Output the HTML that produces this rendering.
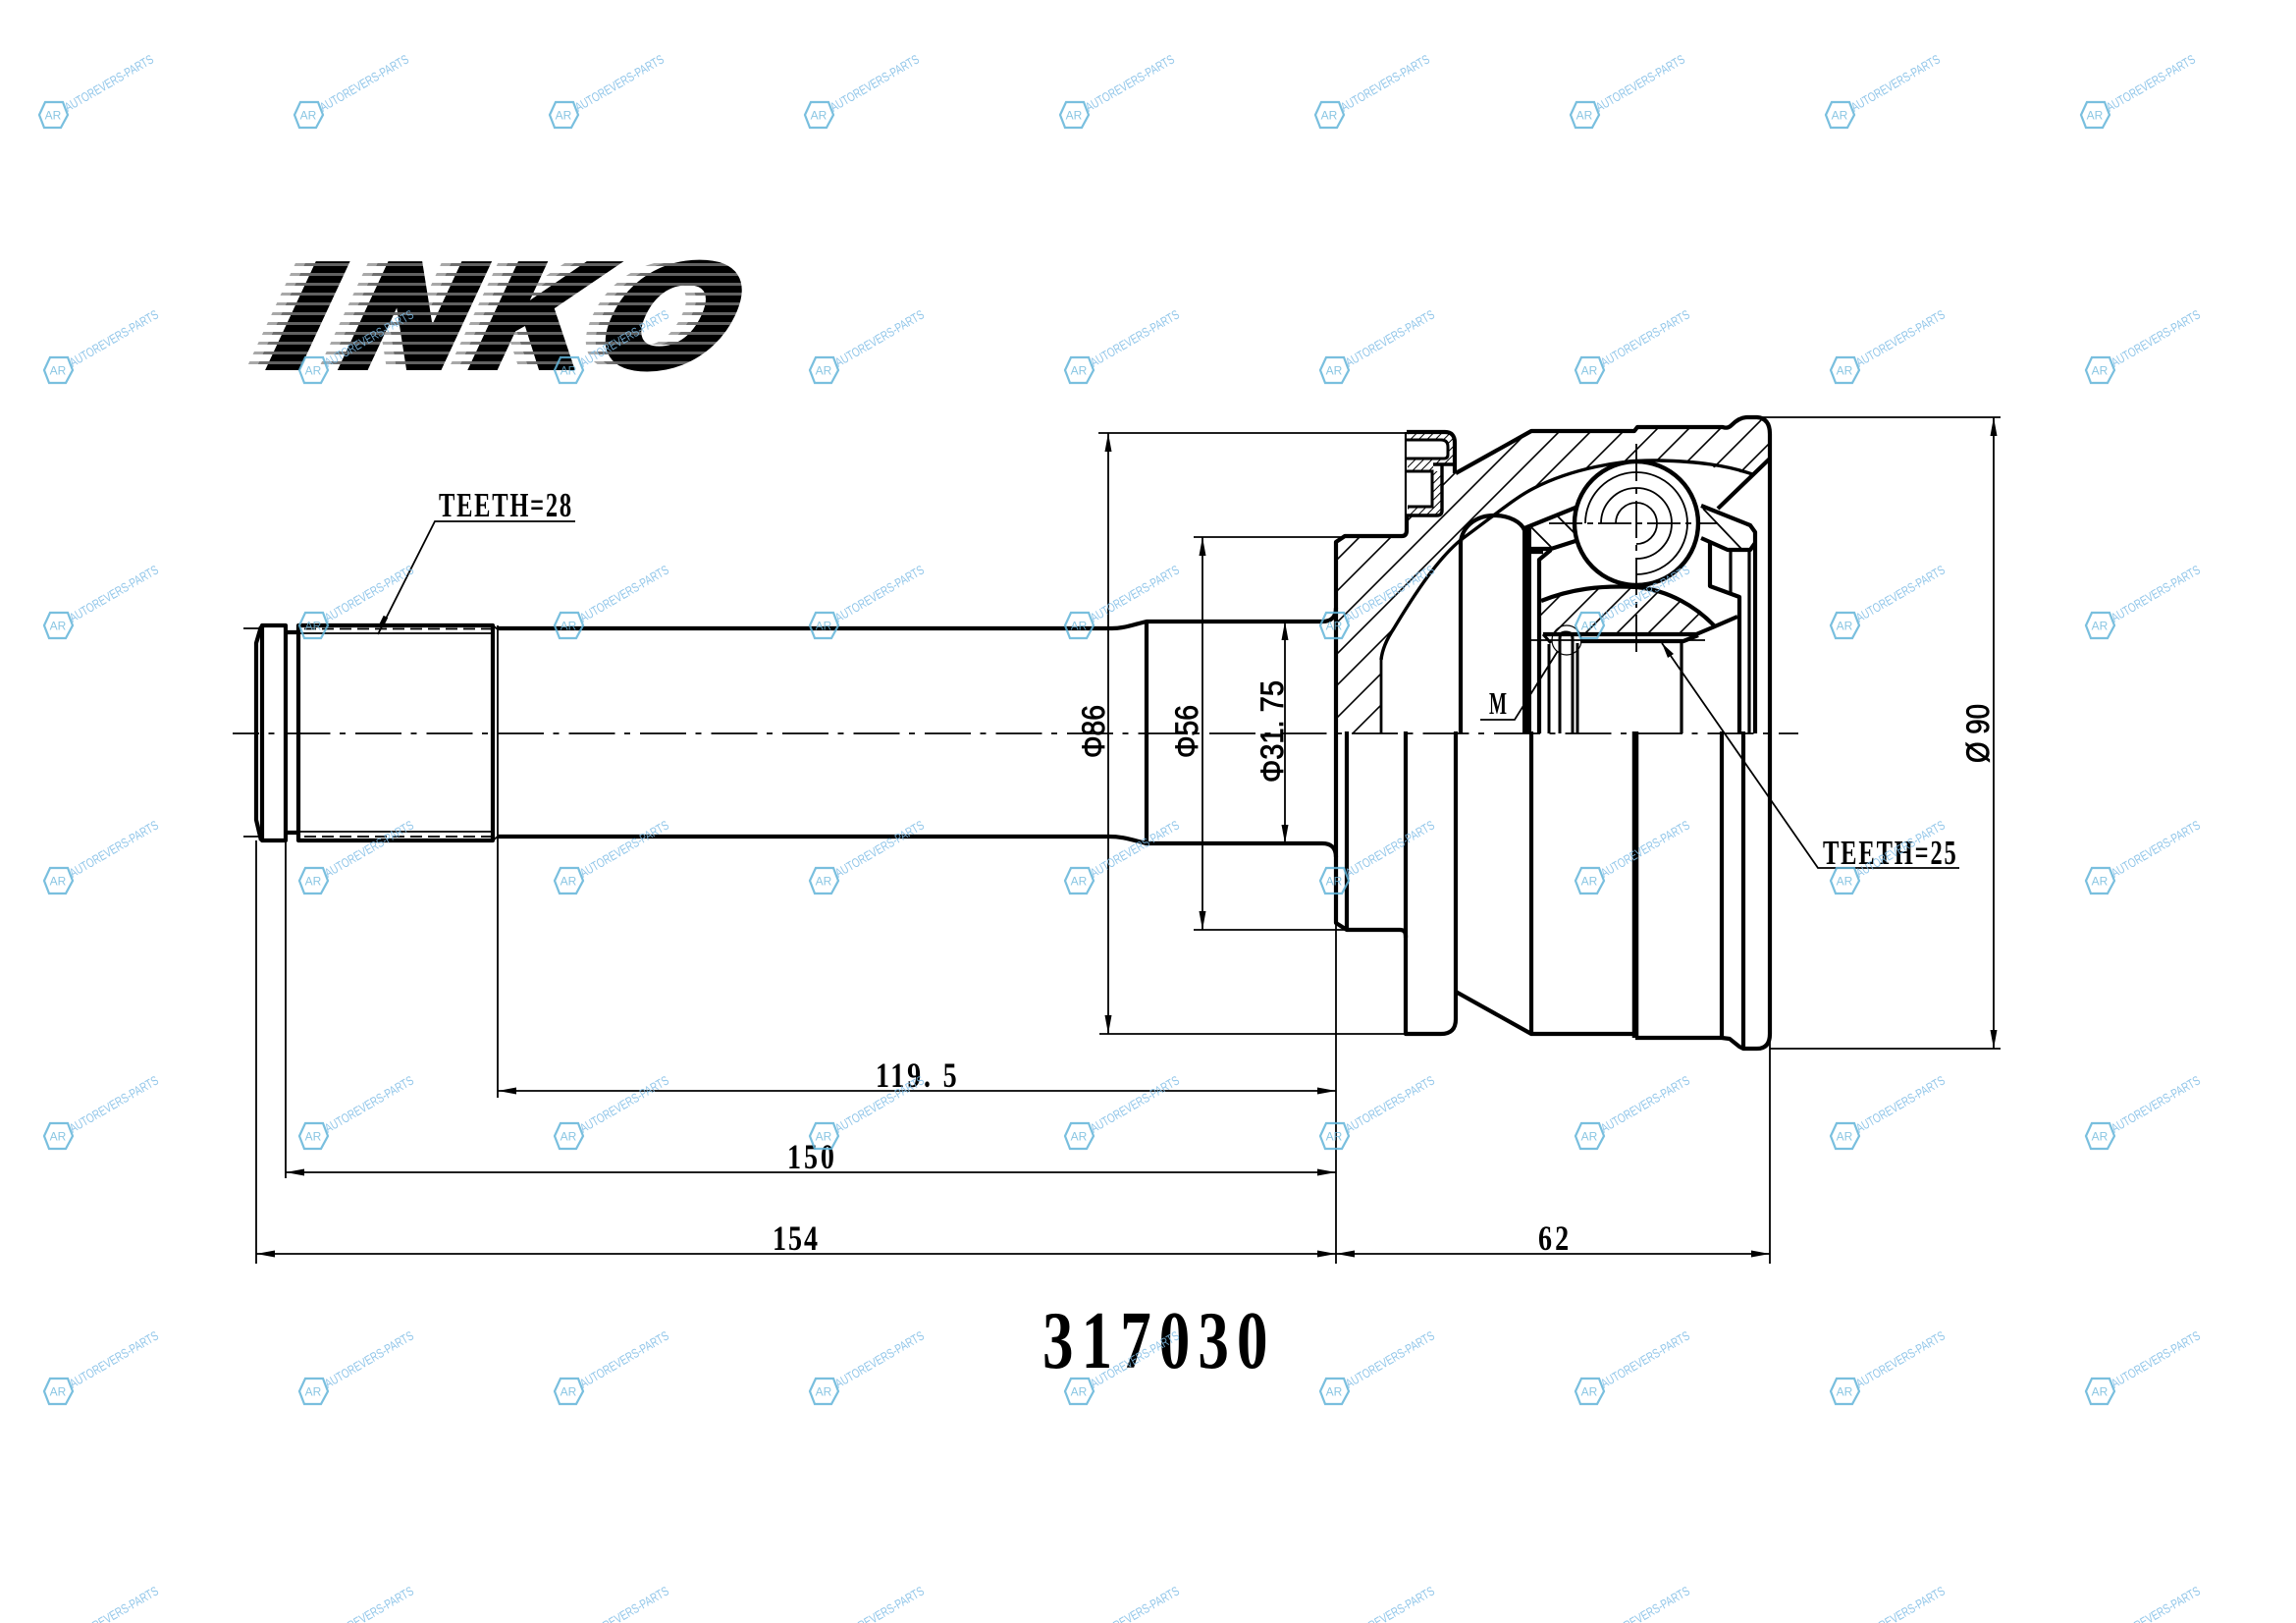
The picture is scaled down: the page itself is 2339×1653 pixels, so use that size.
<!DOCTYPE html>
<html><head><meta charset="utf-8">
<style>
html,body{margin:0;padding:0;background:#fff}
svg{display:block}
.k{fill:none;stroke:#000;stroke-width:4.2;stroke-linejoin:round;stroke-linecap:butt}
.m{fill:none;stroke:#000;stroke-width:2.8}
.t{fill:none;stroke:#000;stroke-width:1.8}
.h{fill:none;stroke:#000;stroke-width:1.6}
.s{font-family:"Liberation Serif",serif;font-weight:bold;fill:#000}
.p{font-family:"Liberation Sans",sans-serif;fill:#000;stroke:#000;stroke-width:.8}
.l{font-family:"Liberation Sans",sans-serif;font-weight:bold;font-size:148px;fill:#000;stroke:#000;stroke-width:9}
.w{font-family:"Liberation Sans",sans-serif;font-size:13px;fill:#7fbde6;opacity:.85}
.a{font-family:"Liberation Sans",sans-serif;font-size:12px;fill:#6db8dc;text-anchor:middle;opacity:.8}
</style></head><body>
<svg xmlns="http://www.w3.org/2000/svg" width="2339" height="1653" viewBox="0 0 2339 1653">
<defs>
<path id="h" d="M-14 0L-8-13H10L15 0L8 13H-9Z" fill="none" stroke="#62b4d8" stroke-width="2.200" opacity=".85"/>
<clipPath id="c1"><path d="M1361 747V552L1370 546H1428L1433 538V525H1468V478H1483V482L1560 439H1665L1668 435H1755Q1760 437 1764 433Q1772 425 1780 425H1790Q1803 426 1803 442V467L1783 483L1713 470H1663L1613 478L1563 497L1527 523L1488 550L1462 573L1420 640L1407 672V747Z"/></clipPath>
<clipPath id="c2"><path d="M1568 646V612L1600 602L1630 597H1667L1707 607L1730 622L1747 638L1728 646Z"/></clipPath>
<pattern id="f" width="6" height="6" patternUnits="userSpaceOnUse" patternTransform="rotate(45)"><line x1="0" y1="0" x2="0" y2="6" stroke="#000" stroke-width="2"/></pattern>
<clipPath id="r"><rect x="230" y="268" width="540" height="3"/><rect x="230" y="278" width="540" height="3"/><rect x="230" y="288" width="540" height="3"/><rect x="230" y="298" width="540" height="3"/><rect x="230" y="308" width="540" height="3"/><rect x="230" y="318" width="540" height="3"/><rect x="230" y="328" width="540" height="3"/><rect x="230" y="338" width="540" height="3"/><rect x="230" y="348" width="540" height="3"/><rect x="230" y="358" width="540" height="3"/><rect x="230" y="368" width="540" height="3"/></clipPath>
</defs>

<!-- logo -->
<g clip-path="url(#r)" opacity=".55">
<g transform="translate(-20,0)">
<text class="l" transform="translate(266,372.500) skewX(-25) scale(1.15,1)">I</text>
<text class="l" transform="translate(340,372.500) skewX(-25) scale(1.1,1)">N</text>
<text class="l" transform="translate(473,372.500) skewX(-25)">K</text>
<text class="l" transform="translate(598,372.500) skewX(-25) scale(1.12,1)">O</text>
</g></g>
<g clip-path="url(#r)" opacity=".8">
<g transform="translate(-10,0)">
<text class="l" transform="translate(266,372.500) skewX(-25) scale(1.15,1)">I</text>
<text class="l" transform="translate(340,372.500) skewX(-25) scale(1.1,1)">N</text>
<text class="l" transform="translate(473,372.500) skewX(-25)">K</text>
<text class="l" transform="translate(598,372.500) skewX(-25) scale(1.12,1)">O</text>
</g></g>
<text class="l" transform="translate(266,372.500) skewX(-25) scale(1.15,1)">I</text>
<text class="l" transform="translate(340,372.500) skewX(-25) scale(1.1,1)">N</text>
<text class="l" transform="translate(473,372.500) skewX(-25)">K</text>
<text class="l" transform="translate(598,372.500) skewX(-25) scale(1.12,1)">O</text>
<g clip-path="url(#r)"><rect x="230" y="260" width="540" height="125" fill="#fff" opacity=".38"/></g>

<!-- shaft -->
<path class="k" d="M266 638L261 655V835L266 856"/>
<path class="k" d="M267 637H291V856H267Z"/>
<path class="k" d="M291 644H304M291 848H304"/>
<path class="k" d="M304 637H502V856H304Z"/>
<path class="t" d="M304 645H502M304 847H502M502 637L507 641M502 856L507 852"/>
<path class="t" stroke-dasharray="12 6" d="M310 640.500H500M310 852H500"/>
<path class="t" d="M507 637V1118"/>
<path class="k" d="M507 640H1133C1145 640 1155 636 1168 633H1347Q1361 633 1361 619"/>
<path class="k" d="M507 852H1130C1145 852 1155 856 1168 859H1347Q1361 859 1361 873"/>
<path class="k" d="M1168 633V859"/>
<path class="k" d="M1361 747V552L1370 546H1428Q1433 546 1433 540V440"/>
<path class="k" d="M1361 747V940L1372 947H1426Q1432 947 1432 953V1053H1468Q1483 1053 1483 1038V745"/>
<path class="k" d="M1372 745V947M1432 745V955"/>
<path class="k" d="M1483 1010L1560 1053H1664M1560 745V1053"/>
<path d="M1666 745V1057" class="k" style="stroke-width:6.500"/>
<path class="k" d="M1666 1057H1754L1762 1058L1772 1066L1776 1068H1790Q1803 1068 1803 1053V745"/>
<path class="k" d="M1754 745V1057M1776 745V1068"/>

<!-- hatch -->
<path class="h" clip-path="url(#c1)" d="M1350 582L1820 112M1350 614L1820 144M1350 646L1820 176M1350 678L1820 208M1350 710L1820 240M1350 743L1820 273M1350 775L1820 305M1350 807L1820 337M1350 839L1820 369M1350 872L1820 402M1350 904L1820 434"/>
<path class="h" clip-path="url(#c2)" d="M1560 636L1760 436M1560 668L1760 468M1560 700L1760 500M1560 732L1760 532M1560 764L1760 564M1560 796L1760 596"/>

<!-- clamp -->
<path d="M1433 440H1472Q1482 440 1482 451V478H1469V526H1433Z" fill="#fff"/>
<path d="M1434 441H1472Q1482 441 1482 451V473H1460V480H1434V467H1471Q1475 467 1475 463V455Q1475 448 1468 448H1434Z" fill="url(#f)"/>
<path d="M1460 480H1469V525H1434V517H1460Z" fill="url(#f)"/>
<path class="k" d="M1433 440H1472Q1482 440 1482 451V482"/>
<path class="m" style="stroke-width:3" d="M1433 448H1468Q1475 448 1475 455V463Q1475 467 1471 467H1433"/>
<path class="m" style="stroke-width:3" d="M1433 480H1459V516H1434"/>
<path class="k" style="stroke-width:3.400" d="M1460 473H1482M1469 473V520Q1469 525 1464 525H1433"/>

<!-- housing inner -->
<path class="k" d="M1483 482L1560 439H1665L1668 435H1755Q1760 437 1764 433Q1772 425 1780 425H1790Q1803 426 1803 442V745"/>
<path class="k" style="stroke-width:3.400" d="M1785 483C1760 474 1730 470 1690 469C1650 468 1600 478 1563 497C1545 506 1530 519 1488 550C1470 565 1450 590 1420 640C1412 652 1408 662 1407 672"/>
<path class="m" d="M1407 672V747"/>
<path class="k" d="M1803 467L1750 518"/>
<path class="k" d="M1488 747V552C1490 535 1505 525 1522 525C1538 525 1550 532 1553 540"/>
<path fill="#000" d="M1551 538H1560V747H1551Z"/>
<path class="k" d="M1553 538L1605 517M1557 559H1580L1605 551M1557 562H1572M1568 747V570L1580 560"/>
<path class="k" d="M1733 515L1783 535L1788 542V747M1733 548L1760 560H1783L1788 553"/>
<path class="k" d="M1742 553V597L1772 608V747"/>
<path class="k" style="stroke-width:3.200" d="M1763 560V603M1782 560V747"/>
<path class="t" d="M1560 537L1582 559M1586 525L1606 545M1735 518L1775 560"/>
<!-- ball -->
<circle cx="1667" cy="533" r="63" fill="#fff" stroke="#000" stroke-width="4.400"/>
<path class="t" d="M1646 533A21 21 0 1 1 1667 554M1631 533A36 36 0 1 1 1667 569M1615 533A52 52 0 1 1 1667 585"/>
<path class="t" d="M1578 533H1750" stroke-dasharray="34 5 6 5"/>
<path class="t" d="M1667 452V668" stroke-dasharray="38 7 6 7"/>
<!-- inner race -->
<path class="k" d="M1570 612C1600 600 1630 596 1667 598C1700 601 1728 618 1747 638L1770 628"/>
<path class="k" d="M1747 638L1728 646H1572"/>
<path class="k" d="M1610 653H1715L1730 647"/>
<path class="t" d="M1560 652H1737"/>
<path class="k" style="stroke-width:3.200" d="M1713 653V747"/>
<circle cx="1596" cy="652" r="15" class="t" style="stroke-width:1.2"/>
<path class="m" style="stroke-width:3" d="M1578 656V747M1589 747V650Q1589 644 1595 644Q1602 644 1602 650V747M1607 655V747M1572 646L1580 655"/>

<!-- center line -->
<path class="t" d="M237 747H1832" stroke-dasharray="47 9.500 6 10" stroke-dashoffset="20"/>

<!-- dimensions -->
<path class="t" d="M248 640H265M248 852H265"/>
<path class="t" d="M261 856V1287M291 856V1200"/>
<path class="t" d="M1361 940V1287M1803 1055V1287"/>
<path class="t" d="M507 1111H1361M291 1194H1361M261 1277H1803"/>
<path class="t" d="M1119 441H1432M1120 1053H1432M1216 547H1372M1216 947H1372"/>
<path class="t" d="M1129 441V1053M1225 547V947M1309 633V859"/>
<path class="t" d="M1792 425H2038M1803 1068H2038M2031 425V1068"/>
<path class="t" d="M586 531H443L385 646"/>
<path class="t" d="M1508 733H1543L1587 663"/>
<path class="t" d="M1996 884H1852L1693 655"/>
<path d="M388 638L393 628" stroke="#000" stroke-width="5" fill="none"/>
<g fill="#000">
<path d="M1693 655L1705 666L1699 670Z"/>
<path d="M507 1111L526 1107.500V1114.500Z M1361 1111L1342 1107.500V1114.500Z"/>
<path d="M291 1194L310 1190.500V1197.500Z M1361 1194L1342 1190.500V1197.500Z"/>
<path d="M261 1277L280 1273.500V1280.500Z M1361 1277L1342 1273.500V1280.500Z M1361 1277L1380 1273.500V1280.500Z M1803 1277L1784 1273.500V1280.500Z"/>
<path d="M1129 441L1125.500 460H1132.500Z M1129 1053L1125.500 1034H1132.500Z"/>
<path d="M1225 547L1221.500 566H1228.500Z M1225 947L1221.500 928H1228.500Z"/>
<path d="M1309 633L1305.500 652H1312.500Z M1309 859L1305.500 840H1312.500Z"/>
<path d="M2031 425L2027.500 444H2034.500Z M2031 1068L2027.500 1049H2034.500Z"/>
</g>

<!-- labels -->
<text class="s" transform="translate(447,526) scale(.7,1)" font-size="35" textLength="193" lengthAdjust="spacing">TEETH=28</text>
<text class="s" transform="translate(1857,880) scale(.7,1)" font-size="35" textLength="194" lengthAdjust="spacing">TEETH=25</text>
<text class="s" x="1517" y="727" font-size="32" textLength="18" lengthAdjust="spacingAndGlyphs">M</text>
<text class="s" transform="translate(892,1107) scale(.78,1)" font-size="36" textLength="106" lengthAdjust="spacing">119. 5</text>
<text class="s" transform="translate(802,1190) scale(.78,1)" font-size="36" textLength="61.500" lengthAdjust="spacing">150</text>
<text class="s" transform="translate(787,1273) scale(.78,1)" font-size="36" textLength="59" lengthAdjust="spacing">154</text>
<text class="s" transform="translate(1567,1273) scale(.78,1)" font-size="36" textLength="40" lengthAdjust="spacing">62</text>
<text class="s" transform="translate(1062,1393) scale(.75,1)" font-size="84" textLength="306" lengthAdjust="spacing">317030</text>
<text class="p" transform="translate(1125,772) rotate(-90)" font-size="32" textLength="54" lengthAdjust="spacingAndGlyphs">Φ86</text>
<text class="p" transform="translate(1220,772) rotate(-90)" font-size="32" textLength="54" lengthAdjust="spacingAndGlyphs">Φ56</text>
<text class="p" transform="translate(1307,797) rotate(-90)" font-size="32" textLength="104" lengthAdjust="spacingAndGlyphs">Φ31. 75</text>
<text class="p" transform="translate(2026,777) rotate(-90)" font-size="32" textLength="60" lengthAdjust="spacingAndGlyphs">Ø 90</text>

<!-- watermarks -->
<g transform="translate(54,117)"><use href="#h"/><text class="a" y="4.500">AR</text><text class="w" transform="translate(15,-3) rotate(-30)" textLength="102" lengthAdjust="spacingAndGlyphs">AUTOREVERS-PARTS</text></g>
<g transform="translate(314,117)"><use href="#h"/><text class="a" y="4.500">AR</text><text class="w" transform="translate(15,-3) rotate(-30)" textLength="102" lengthAdjust="spacingAndGlyphs">AUTOREVERS-PARTS</text></g>
<g transform="translate(574,117)"><use href="#h"/><text class="a" y="4.500">AR</text><text class="w" transform="translate(15,-3) rotate(-30)" textLength="102" lengthAdjust="spacingAndGlyphs">AUTOREVERS-PARTS</text></g>
<g transform="translate(834,117)"><use href="#h"/><text class="a" y="4.500">AR</text><text class="w" transform="translate(15,-3) rotate(-30)" textLength="102" lengthAdjust="spacingAndGlyphs">AUTOREVERS-PARTS</text></g>
<g transform="translate(1094,117)"><use href="#h"/><text class="a" y="4.500">AR</text><text class="w" transform="translate(15,-3) rotate(-30)" textLength="102" lengthAdjust="spacingAndGlyphs">AUTOREVERS-PARTS</text></g>
<g transform="translate(1354,117)"><use href="#h"/><text class="a" y="4.500">AR</text><text class="w" transform="translate(15,-3) rotate(-30)" textLength="102" lengthAdjust="spacingAndGlyphs">AUTOREVERS-PARTS</text></g>
<g transform="translate(1614,117)"><use href="#h"/><text class="a" y="4.500">AR</text><text class="w" transform="translate(15,-3) rotate(-30)" textLength="102" lengthAdjust="spacingAndGlyphs">AUTOREVERS-PARTS</text></g>
<g transform="translate(1874,117)"><use href="#h"/><text class="a" y="4.500">AR</text><text class="w" transform="translate(15,-3) rotate(-30)" textLength="102" lengthAdjust="spacingAndGlyphs">AUTOREVERS-PARTS</text></g>
<g transform="translate(2134,117)"><use href="#h"/><text class="a" y="4.500">AR</text><text class="w" transform="translate(15,-3) rotate(-30)" textLength="102" lengthAdjust="spacingAndGlyphs">AUTOREVERS-PARTS</text></g>

<g transform="translate(59,377)"><use href="#h"/><text class="a" y="4.500">AR</text><text class="w" transform="translate(15,-3) rotate(-30)" textLength="102" lengthAdjust="spacingAndGlyphs">AUTOREVERS-PARTS</text></g>
<g transform="translate(319,377)"><use href="#h"/><text class="a" y="4.500">AR</text><text class="w" transform="translate(15,-3) rotate(-30)" textLength="102" lengthAdjust="spacingAndGlyphs">AUTOREVERS-PARTS</text></g>
<g transform="translate(579,377)"><use href="#h"/><text class="a" y="4.500">AR</text><text class="w" transform="translate(15,-3) rotate(-30)" textLength="102" lengthAdjust="spacingAndGlyphs">AUTOREVERS-PARTS</text></g>
<g transform="translate(839,377)"><use href="#h"/><text class="a" y="4.500">AR</text><text class="w" transform="translate(15,-3) rotate(-30)" textLength="102" lengthAdjust="spacingAndGlyphs">AUTOREVERS-PARTS</text></g>
<g transform="translate(1099,377)"><use href="#h"/><text class="a" y="4.500">AR</text><text class="w" transform="translate(15,-3) rotate(-30)" textLength="102" lengthAdjust="spacingAndGlyphs">AUTOREVERS-PARTS</text></g>
<g transform="translate(1359,377)"><use href="#h"/><text class="a" y="4.500">AR</text><text class="w" transform="translate(15,-3) rotate(-30)" textLength="102" lengthAdjust="spacingAndGlyphs">AUTOREVERS-PARTS</text></g>
<g transform="translate(1619,377)"><use href="#h"/><text class="a" y="4.500">AR</text><text class="w" transform="translate(15,-3) rotate(-30)" textLength="102" lengthAdjust="spacingAndGlyphs">AUTOREVERS-PARTS</text></g>
<g transform="translate(1879,377)"><use href="#h"/><text class="a" y="4.500">AR</text><text class="w" transform="translate(15,-3) rotate(-30)" textLength="102" lengthAdjust="spacingAndGlyphs">AUTOREVERS-PARTS</text></g>
<g transform="translate(2139,377)"><use href="#h"/><text class="a" y="4.500">AR</text><text class="w" transform="translate(15,-3) rotate(-30)" textLength="102" lengthAdjust="spacingAndGlyphs">AUTOREVERS-PARTS</text></g>

<g transform="translate(59,637)"><use href="#h"/><text class="a" y="4.500">AR</text><text class="w" transform="translate(15,-3) rotate(-30)" textLength="102" lengthAdjust="spacingAndGlyphs">AUTOREVERS-PARTS</text></g>
<g transform="translate(319,637)"><use href="#h"/><text class="a" y="4.500">AR</text><text class="w" transform="translate(15,-3) rotate(-30)" textLength="102" lengthAdjust="spacingAndGlyphs">AUTOREVERS-PARTS</text></g>
<g transform="translate(579,637)"><use href="#h"/><text class="a" y="4.500">AR</text><text class="w" transform="translate(15,-3) rotate(-30)" textLength="102" lengthAdjust="spacingAndGlyphs">AUTOREVERS-PARTS</text></g>
<g transform="translate(839,637)"><use href="#h"/><text class="a" y="4.500">AR</text><text class="w" transform="translate(15,-3) rotate(-30)" textLength="102" lengthAdjust="spacingAndGlyphs">AUTOREVERS-PARTS</text></g>
<g transform="translate(1099,637)"><use href="#h"/><text class="a" y="4.500">AR</text><text class="w" transform="translate(15,-3) rotate(-30)" textLength="102" lengthAdjust="spacingAndGlyphs">AUTOREVERS-PARTS</text></g>
<g transform="translate(1359,637)"><use href="#h"/><text class="a" y="4.500">AR</text><text class="w" transform="translate(15,-3) rotate(-30)" textLength="102" lengthAdjust="spacingAndGlyphs">AUTOREVERS-PARTS</text></g>
<g transform="translate(1619,637)"><use href="#h"/><text class="a" y="4.500">AR</text><text class="w" transform="translate(15,-3) rotate(-30)" textLength="102" lengthAdjust="spacingAndGlyphs">AUTOREVERS-PARTS</text></g>
<g transform="translate(1879,637)"><use href="#h"/><text class="a" y="4.500">AR</text><text class="w" transform="translate(15,-3) rotate(-30)" textLength="102" lengthAdjust="spacingAndGlyphs">AUTOREVERS-PARTS</text></g>
<g transform="translate(2139,637)"><use href="#h"/><text class="a" y="4.500">AR</text><text class="w" transform="translate(15,-3) rotate(-30)" textLength="102" lengthAdjust="spacingAndGlyphs">AUTOREVERS-PARTS</text></g>

<g transform="translate(59,897)"><use href="#h"/><text class="a" y="4.500">AR</text><text class="w" transform="translate(15,-3) rotate(-30)" textLength="102" lengthAdjust="spacingAndGlyphs">AUTOREVERS-PARTS</text></g>
<g transform="translate(319,897)"><use href="#h"/><text class="a" y="4.500">AR</text><text class="w" transform="translate(15,-3) rotate(-30)" textLength="102" lengthAdjust="spacingAndGlyphs">AUTOREVERS-PARTS</text></g>
<g transform="translate(579,897)"><use href="#h"/><text class="a" y="4.500">AR</text><text class="w" transform="translate(15,-3) rotate(-30)" textLength="102" lengthAdjust="spacingAndGlyphs">AUTOREVERS-PARTS</text></g>
<g transform="translate(839,897)"><use href="#h"/><text class="a" y="4.500">AR</text><text class="w" transform="translate(15,-3) rotate(-30)" textLength="102" lengthAdjust="spacingAndGlyphs">AUTOREVERS-PARTS</text></g>
<g transform="translate(1099,897)"><use href="#h"/><text class="a" y="4.500">AR</text><text class="w" transform="translate(15,-3) rotate(-30)" textLength="102" lengthAdjust="spacingAndGlyphs">AUTOREVERS-PARTS</text></g>
<g transform="translate(1359,897)"><use href="#h"/><text class="a" y="4.500">AR</text><text class="w" transform="translate(15,-3) rotate(-30)" textLength="102" lengthAdjust="spacingAndGlyphs">AUTOREVERS-PARTS</text></g>
<g transform="translate(1619,897)"><use href="#h"/><text class="a" y="4.500">AR</text><text class="w" transform="translate(15,-3) rotate(-30)" textLength="102" lengthAdjust="spacingAndGlyphs">AUTOREVERS-PARTS</text></g>
<g transform="translate(1879,897)"><use href="#h"/><text class="a" y="4.500">AR</text><text class="w" transform="translate(15,-3) rotate(-30)" textLength="102" lengthAdjust="spacingAndGlyphs">AUTOREVERS-PARTS</text></g>
<g transform="translate(2139,897)"><use href="#h"/><text class="a" y="4.500">AR</text><text class="w" transform="translate(15,-3) rotate(-30)" textLength="102" lengthAdjust="spacingAndGlyphs">AUTOREVERS-PARTS</text></g>

<g transform="translate(59,1157)"><use href="#h"/><text class="a" y="4.500">AR</text><text class="w" transform="translate(15,-3) rotate(-30)" textLength="102" lengthAdjust="spacingAndGlyphs">AUTOREVERS-PARTS</text></g>
<g transform="translate(319,1157)"><use href="#h"/><text class="a" y="4.500">AR</text><text class="w" transform="translate(15,-3) rotate(-30)" textLength="102" lengthAdjust="spacingAndGlyphs">AUTOREVERS-PARTS</text></g>
<g transform="translate(579,1157)"><use href="#h"/><text class="a" y="4.500">AR</text><text class="w" transform="translate(15,-3) rotate(-30)" textLength="102" lengthAdjust="spacingAndGlyphs">AUTOREVERS-PARTS</text></g>
<g transform="translate(839,1157)"><use href="#h"/><text class="a" y="4.500">AR</text><text class="w" transform="translate(15,-3) rotate(-30)" textLength="102" lengthAdjust="spacingAndGlyphs">AUTOREVERS-PARTS</text></g>
<g transform="translate(1099,1157)"><use href="#h"/><text class="a" y="4.500">AR</text><text class="w" transform="translate(15,-3) rotate(-30)" textLength="102" lengthAdjust="spacingAndGlyphs">AUTOREVERS-PARTS</text></g>
<g transform="translate(1359,1157)"><use href="#h"/><text class="a" y="4.500">AR</text><text class="w" transform="translate(15,-3) rotate(-30)" textLength="102" lengthAdjust="spacingAndGlyphs">AUTOREVERS-PARTS</text></g>
<g transform="translate(1619,1157)"><use href="#h"/><text class="a" y="4.500">AR</text><text class="w" transform="translate(15,-3) rotate(-30)" textLength="102" lengthAdjust="spacingAndGlyphs">AUTOREVERS-PARTS</text></g>
<g transform="translate(1879,1157)"><use href="#h"/><text class="a" y="4.500">AR</text><text class="w" transform="translate(15,-3) rotate(-30)" textLength="102" lengthAdjust="spacingAndGlyphs">AUTOREVERS-PARTS</text></g>
<g transform="translate(2139,1157)"><use href="#h"/><text class="a" y="4.500">AR</text><text class="w" transform="translate(15,-3) rotate(-30)" textLength="102" lengthAdjust="spacingAndGlyphs">AUTOREVERS-PARTS</text></g>

<g transform="translate(59,1417)"><use href="#h"/><text class="a" y="4.500">AR</text><text class="w" transform="translate(15,-3) rotate(-30)" textLength="102" lengthAdjust="spacingAndGlyphs">AUTOREVERS-PARTS</text></g>
<g transform="translate(319,1417)"><use href="#h"/><text class="a" y="4.500">AR</text><text class="w" transform="translate(15,-3) rotate(-30)" textLength="102" lengthAdjust="spacingAndGlyphs">AUTOREVERS-PARTS</text></g>
<g transform="translate(579,1417)"><use href="#h"/><text class="a" y="4.500">AR</text><text class="w" transform="translate(15,-3) rotate(-30)" textLength="102" lengthAdjust="spacingAndGlyphs">AUTOREVERS-PARTS</text></g>
<g transform="translate(839,1417)"><use href="#h"/><text class="a" y="4.500">AR</text><text class="w" transform="translate(15,-3) rotate(-30)" textLength="102" lengthAdjust="spacingAndGlyphs">AUTOREVERS-PARTS</text></g>
<g transform="translate(1099,1417)"><use href="#h"/><text class="a" y="4.500">AR</text><text class="w" transform="translate(15,-3) rotate(-30)" textLength="102" lengthAdjust="spacingAndGlyphs">AUTOREVERS-PARTS</text></g>
<g transform="translate(1359,1417)"><use href="#h"/><text class="a" y="4.500">AR</text><text class="w" transform="translate(15,-3) rotate(-30)" textLength="102" lengthAdjust="spacingAndGlyphs">AUTOREVERS-PARTS</text></g>
<g transform="translate(1619,1417)"><use href="#h"/><text class="a" y="4.500">AR</text><text class="w" transform="translate(15,-3) rotate(-30)" textLength="102" lengthAdjust="spacingAndGlyphs">AUTOREVERS-PARTS</text></g>
<g transform="translate(1879,1417)"><use href="#h"/><text class="a" y="4.500">AR</text><text class="w" transform="translate(15,-3) rotate(-30)" textLength="102" lengthAdjust="spacingAndGlyphs">AUTOREVERS-PARTS</text></g>
<g transform="translate(2139,1417)"><use href="#h"/><text class="a" y="4.500">AR</text><text class="w" transform="translate(15,-3) rotate(-30)" textLength="102" lengthAdjust="spacingAndGlyphs">AUTOREVERS-PARTS</text></g>

<g transform="translate(59,1677)"><use href="#h"/><text class="w" transform="translate(15,-3) rotate(-30)" textLength="102" lengthAdjust="spacingAndGlyphs">AUTOREVERS-PARTS</text></g>
<g transform="translate(319,1677)"><use href="#h"/><text class="w" transform="translate(15,-3) rotate(-30)" textLength="102" lengthAdjust="spacingAndGlyphs">AUTOREVERS-PARTS</text></g>
<g transform="translate(579,1677)"><use href="#h"/><text class="w" transform="translate(15,-3) rotate(-30)" textLength="102" lengthAdjust="spacingAndGlyphs">AUTOREVERS-PARTS</text></g>
<g transform="translate(839,1677)"><use href="#h"/><text class="w" transform="translate(15,-3) rotate(-30)" textLength="102" lengthAdjust="spacingAndGlyphs">AUTOREVERS-PARTS</text></g>
<g transform="translate(1099,1677)"><use href="#h"/><text class="w" transform="translate(15,-3) rotate(-30)" textLength="102" lengthAdjust="spacingAndGlyphs">AUTOREVERS-PARTS</text></g>
<g transform="translate(1359,1677)"><use href="#h"/><text class="w" transform="translate(15,-3) rotate(-30)" textLength="102" lengthAdjust="spacingAndGlyphs">AUTOREVERS-PARTS</text></g>
<g transform="translate(1619,1677)"><use href="#h"/><text class="w" transform="translate(15,-3) rotate(-30)" textLength="102" lengthAdjust="spacingAndGlyphs">AUTOREVERS-PARTS</text></g>
<g transform="translate(1879,1677)"><use href="#h"/><text class="w" transform="translate(15,-3) rotate(-30)" textLength="102" lengthAdjust="spacingAndGlyphs">AUTOREVERS-PARTS</text></g>
<g transform="translate(2139,1677)"><use href="#h"/><text class="w" transform="translate(15,-3) rotate(-30)" textLength="102" lengthAdjust="spacingAndGlyphs">AUTOREVERS-PARTS</text></g>
</svg>
</body></html>
